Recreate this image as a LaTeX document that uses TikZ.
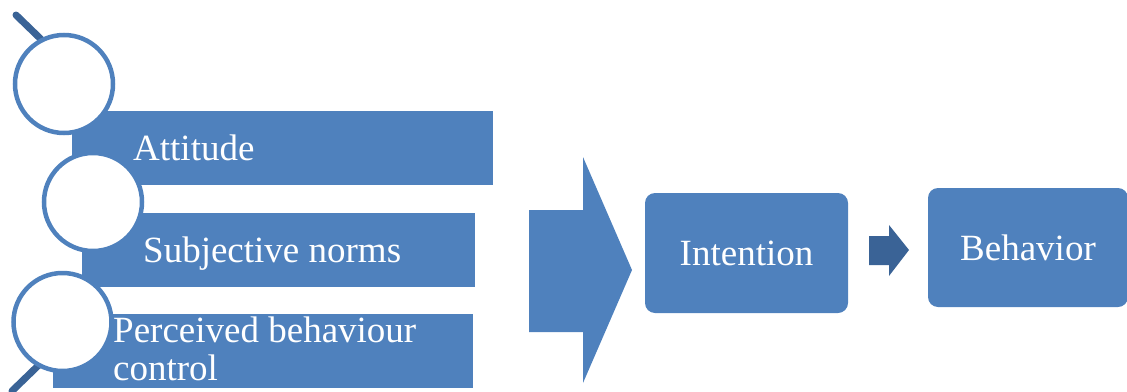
\documentclass[tikz,border=0pt]{standalone}
\usepackage{fontspec}
\setmainfont{Liberation Serif}
\definecolor{tpbblue}{HTML}{4F81BD}
\definecolor{tpbdark}{HTML}{3A6396}
\tikzset{
  bartext/.style={text=white, font=\fontsize{37}{38}\selectfont, inner sep=0pt, anchor=base west, align=left},
  stepbox/.style={fill=tpbblue, rounded corners=10pt, text=white, font=\fontsize{37}{38}\selectfont, inner sep=0pt},
  ring/.style={draw=tpbblue, line width=4.5pt, fill=white, circle, inner sep=0pt, minimum size=98pt},
  handle/.style={draw=tpbdark, line width=7pt, line cap=round}
}
\begin{document}
\begin{tikzpicture}[x=1pt,y=-1pt]
\useasboundingbox (0,0) rectangle (1127,391);
% bars
\fill[tpbblue] (72,111) rectangle (493,185);
\fill[tpbblue] (82,213) rectangle (475,287);
\fill[tpbblue] (53,314) rectangle (473,388);
\node[bartext] (att) at (133,160) {Attitude};
\node[bartext] (norm) at (143,262) {Subjective norms};
\node[bartext] (pbc) at (113,380) {Perceived behaviour\\control};
% handles and circles
\draw[handle] (16,15) -- (48,46);
\draw[handle] (12,391) -- (44,360);
\node[ring] (c1) at (64,84) {};
\node[ring] (c2) at (93,202) {};
\node[ring] (c3) at (62.5,322) {};
% big arrow
\fill[tpbblue] (529,210) -- (583,210) -- (583,157) -- (632,270) -- (583,383) -- (583,332) -- (529,332) -- cycle;
% boxes
\node[stepbox, minimum width=203pt, minimum height=120pt] (int) at (746.5,253) {Intention};
\node[stepbox, minimum width=200pt, minimum height=119pt] (beh) at (1028,247.5) {Behavior};
% small arrow
\fill[tpbdark] (869,236) -- (889,236) -- (889,225) -- (909,250) -- (889,276) -- (889,265) -- (869,265) -- cycle;
\end{tikzpicture}
\end{document}
